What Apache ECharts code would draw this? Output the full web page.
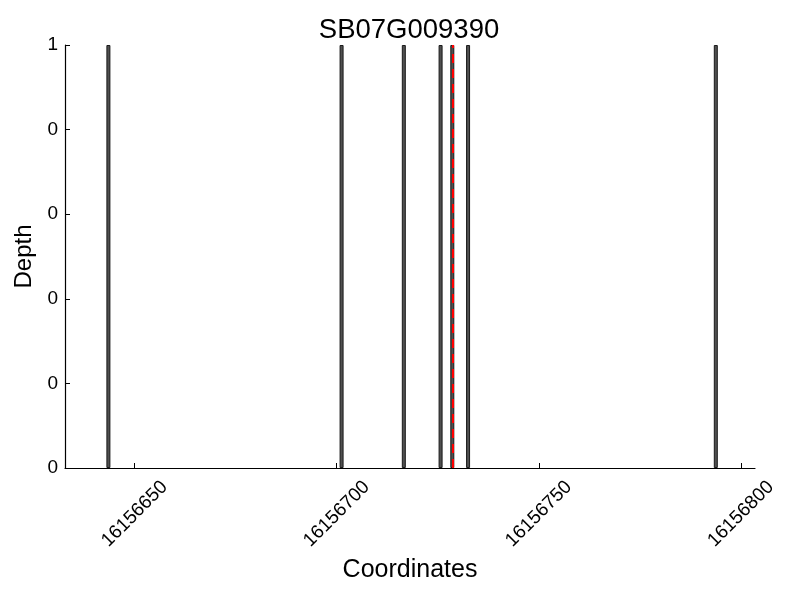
<!DOCTYPE html>
<html>
<head>
<meta charset="utf-8">
<script src="https://cdn.jsdelivr.net/npm/echarts@6/dist/echarts.min.js"></script>
<style>html,body{margin:0;padding:0;background:#fff;}#c{width:800px;height:600px;}</style>
</head>
<body>
<div id="c"></div>
<script>
// Data
const title = 'SB07G009390';
const positions = [16156643.5, 16156701.2, 16156716.6, 16156725.7, 16156728.6, 16156732.5, 16156793.8];
const depths = [1, 1, 1, 1, 1, 1, 1];
const markerPosition = 16156728.6;
const xTicks = [16156650, 16156700, 16156750, 16156800];
const yTickValues = [0, 0.2, 0.4, 0.6, 0.8, 1];
const yTickLabels = ['0', '0', '0', '0', '0', '1'];

const FONT = 'Liberation Sans';
const chart = echarts.init(document.getElementById('c'), null, {renderer: 'canvas'});
chart.setOption({
  animation: false,
  backgroundColor: '#fff',
  title: {
    text: title,
    left: 404,
    top: 11,
    textAlign: 'center',
    textStyle: {fontFamily: FONT, fontSize: 27.5, fontWeight: 'normal', color: '#000'}
  },
  grid: {left: 65, right: 45, top: 45, bottom: 132, containLabel: false},
  xAxis: {
    type: 'value',
    min: 16156632.76,
    max: 16156803.5,
    interval: 50,
    name: 'Coordinates',
    nameLocation: 'middle',
    nameGap: 88,
    nameTextStyle: {fontFamily: FONT, fontSize: 25, color: '#000'},
    axisLine: {show: true, lineStyle: {color: '#000', width: 1.2}},
    axisTick: {show: true, inside: true, length: 5, lineStyle: {color: '#000'},
      customValues: xTicks},
    axisLabel: {
      rotate: 45, fontFamily: FONT, fontSize: 19, color: '#000', margin: 46,
      align: 'center', verticalAlign: 'middle',
      customValues: xTicks,
      formatter: v => String(Math.round(v))
    },
    splitLine: {show: false}
  },
  yAxis: {
    type: 'value',
    min: 0,
    max: 1,
    interval: 0.2,
    name: 'Depth',
    nameLocation: 'middle',
    nameGap: 22,
    nameTextStyle: {fontFamily: FONT, fontSize: 24, color: '#000'},
    axisLine: {show: true, lineStyle: {color: '#000', width: 1.2}},
    axisTick: {show: true, inside: true, length: 5, lineStyle: {color: '#000'}},
    axisLabel: {
      fontFamily: FONT, fontSize: 19, color: '#000', margin: 7,
      formatter: v => {
        const i = yTickValues.findIndex(t => Math.abs(t - v) < 1e-6);
        return i >= 0 ? yTickLabels[i] : '';
      }
    },
    splitLine: {show: false}
  },
  series: [{
    type: 'bar',
    data: positions.map((p, i) => [p, depths[i]]),
    barWidth: 4,
    itemStyle: {color: '#505050', borderColor: '#1a1a1a', borderWidth: 1},
    markLine: {
      silent: true,
      symbol: 'none',
      label: {show: false},
      lineStyle: {color: '#ff0000', type: [9, 6], width: 2},
      data: [{xAxis: markerPosition}]
    }
  }]
});
</script>
</body>
</html>
